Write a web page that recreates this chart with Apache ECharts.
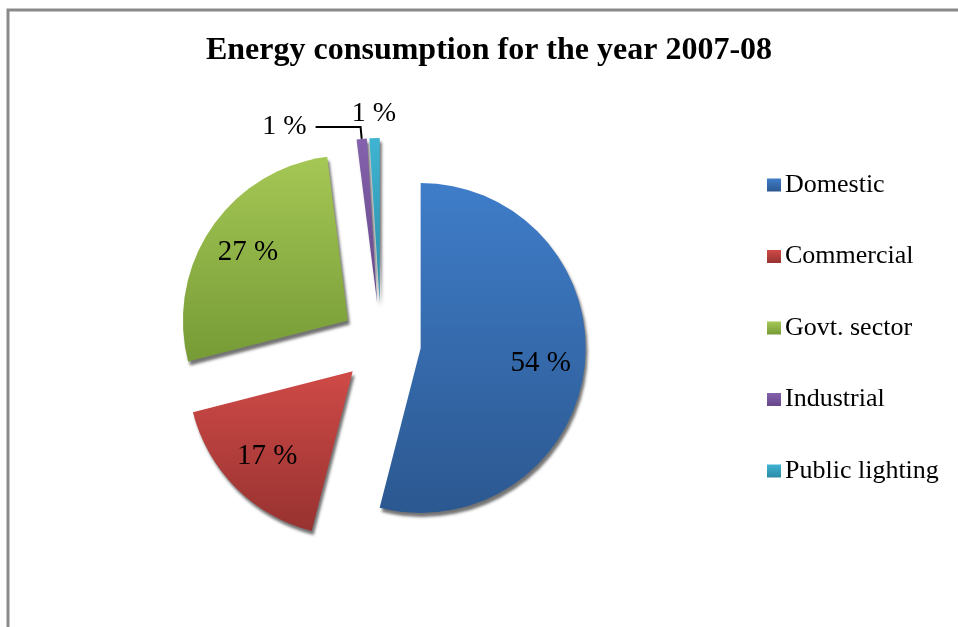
<!DOCTYPE html>
<html>
<head>
<meta charset="utf-8">
<script src="https://cdn.jsdelivr.net/npm/echarts@6/dist/echarts.min.js"></script>
<style>
  html, body { margin: 0; padding: 0; background: #ffffff; }
  #chart { width: 958px; height: 627px; }
</style>
</head>
<body>
<div id="chart"></div>
<script>
// Energy consumption shares, 2007-08 (percent)
const categories = ['Domestic', 'Commercial', 'Govt. sector', 'Industrial', 'Public lighting'];
const shares = [54, 17, 27, 1, 1];
const titleText = 'Energy consumption for the year 2007-08';

// Slice fills: lighter at the top, darker toward the bottom
const topColors = ['#3f7dc9', '#cf4a47', '#a5c755', '#8462ad', '#3fb4d2'];
const bottomColors = ['#2c5890', '#973230', '#769b36', '#66478a', '#2a8aa6'];

const FONT = '"Liberation Serif", "Times New Roman", serif';

function grad(i) {
  return new echarts.graphic.LinearGradient(0, 0, 0, 1, [
    { offset: 0, color: topColors[i] },
    { offset: 1, color: bottomColors[i] }
  ]);
}

const pieData = categories.map((name, i) => {
  const item = {
    name: name,
    value: shares[i],
    selected: true,
    itemStyle: { color: grad(i) }
  };
  if (i < 3) {
    // big slices are labelled from the inner label ring
    item.label = { show: false };
    item.labelLine = { show: false };
  } else if (i === 4) {
    item.label = { distanceToLabelLine: 0 };
    item.labelLine = { show: false, length: 24, length2: 0 };
  }
  return item;
});

// Transparent twin of the pie that carries the in-slice percentage labels
const labelData = categories.map((name, i) => ({
  name: name,
  value: shares[i],
  selected: true,
  label: { show: i < 3 }
}));

const chart = echarts.init(document.getElementById('chart'), null, { renderer: 'canvas' });

const option = {
  backgroundColor: '#ffffff',
  animation: false,
  title: {
    text: titleText,
    left: 489,
    top: 35,
    textAlign: 'center',
    padding: 0,
    textStyle: { fontFamily: FONT, fontWeight: 'bold', fontSize: 32, color: '#000' }
  },
  legend: {
    orient: 'vertical',
    left: 767,
    top: 172,
    padding: 0,
    icon: 'rect',
    itemWidth: 14,
    itemHeight: 13,
    itemGap: 45.5,
    selectedMode: false,
    data: categories,
    textStyle: { fontFamily: FONT, fontSize: 26, color: '#000', lineHeight: 26, padding: [0, 0, 0, -1] }
  },
  graphic: [{
    type: 'polyline',
    shape: { points: [[8, 627], [8, 10], [958, 10]] },
    style: { stroke: '#8a8a8a', lineWidth: 3, fill: null },
    silent: true
  }],
  series: [
    {
      type: 'pie',
      center: [381, 343],
      radius: 165,
      startAngle: 90,
      clockwise: true,
      selectedMode: 'multiple',
      selectedOffset: 40,
      avoidLabelOverlap: false,
      emphasis: { disabled: true },
      itemStyle: {
        shadowColor: 'rgba(0,0,0,0.55)',
        shadowBlur: 3,
        shadowOffsetX: 2,
        shadowOffsetY: 4
      },
      label: {
        show: true,
        position: 'outside',
        fontFamily: FONT,
        fontSize: 28,
        color: '#000',
        distanceToLabelLine: 9,
        formatter: p => p.value + ' %'
      },
      labelLine: {
        show: true,
        length: 12,
        length2: 45,
        lineStyle: { color: '#000', width: 2 }
      },
      labelLayout: function (p) {
        if (p.dataIndex === 4) {
          return { align: 'center' };
        }
        return {};
      },
      data: pieData
    },
    {
      type: 'pie',
      center: [381, 343],
      radius: [71, 165],
      startAngle: 90,
      clockwise: true,
      selectedMode: 'multiple',
      selectedOffset: 40,
      silent: true,
      emphasis: { disabled: true },
      itemStyle: { color: 'rgba(0,0,0,0)' },
      label: {
        show: true,
        position: 'inside',
        fontFamily: FONT,
        fontSize: 29,
        color: '#000',
        formatter: p => p.value + ' %'
      },
      labelLine: { show: false },
      data: labelData
    }
  ]
};

chart.setOption(option);
</script>
</body>
</html>
